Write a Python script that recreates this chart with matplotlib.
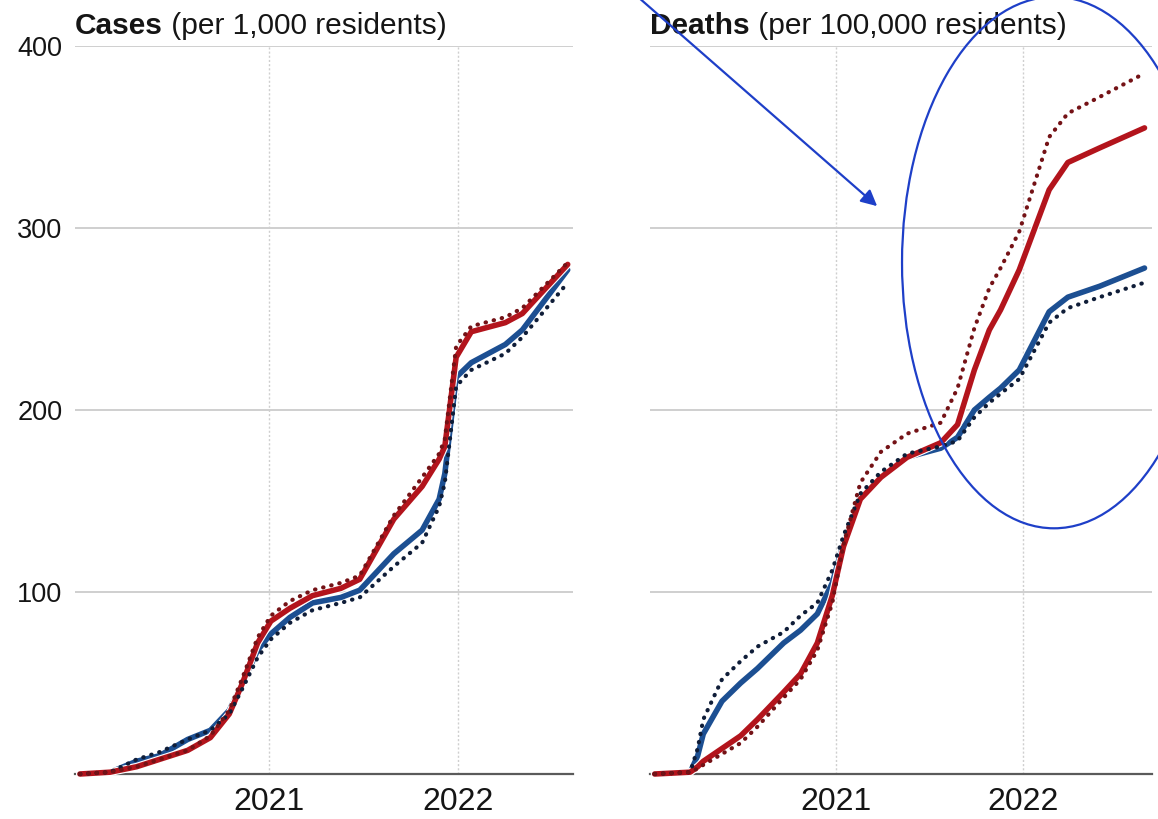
import matplotlib
matplotlib.use('Agg')
import matplotlib.pyplot as plt
import matplotlib.patheffects as pe
from matplotlib.patches import Ellipse

plt.rcParams['font.family'] = ['Liberation Sans', 'DejaVu Sans']

# === DATA (decimal years, cumulative) ===
# Cases per 1,000 residents
T_CASES = [2020.00, 2020.16, 2020.30, 2020.42, 2020.57, 2020.69, 2020.79, 2020.86,
           2020.94, 2021.01, 2021.11, 2021.23, 2021.38, 2021.48, 2021.66, 2021.81,
           2021.90, 2021.93, 2021.99, 2022.07, 2022.25, 2022.34, 2022.58]
cases_red = [0, 1, 4, 8, 13, 20, 33, 50, 72, 84, 91, 98, 102, 107, 140, 158,
             173, 180, 229, 243, 248, 253, 280]
cases_red_dot = [0, 1, 4, 8, 13, 21, 35, 53, 75, 87, 95, 101, 105, 109, 142, 163,
                 176, 184, 235, 246, 251, 256, 281]
cases_blue = [0, 1, 7, 10, 19, 24, 35, 50, 68, 77, 86, 94, 97, 101, 121, 134,
              151, 165, 218, 226, 236, 244, 277]
cases_blue_dot = [0, 1, 8, 12, 19, 24, 33, 47, 64, 74, 83, 90, 94, 97, 114, 127,
                  147, 160, 213, 222, 231, 240, 270]

# Deaths per 100,000 residents
T_DEATHS = [2020.03, 2020.22, 2020.26, 2020.29, 2020.39, 2020.49, 2020.58, 2020.72,
            2020.81, 2020.90, 2020.98, 2021.04, 2021.13, 2021.24, 2021.38, 2021.56,
            2021.65, 2021.74, 2021.82, 2021.88, 2021.98, 2022.14, 2022.24, 2022.41,
            2022.65]
deaths_red = [0, 1, 4, 7, 14, 21, 30, 45, 55, 72, 98, 125, 151, 163, 174, 182,
              192, 222, 244, 255, 277, 321, 336, 344, 355]
deaths_red_dot = [0, 1, 3, 5, 11, 17, 26, 42, 52, 68, 94, 126, 160, 177, 187, 193,
                  212, 245, 267, 278, 298, 350, 363, 372, 385]
deaths_blue = [0, 1, 10, 22, 40, 50, 58, 72, 79, 88, 105, 127, 151, 163, 174, 179,
               185, 200, 207, 212, 222, 254, 262, 268, 278]
deaths_blue_dot = [0, 1, 14, 30, 52, 62, 70, 78, 87, 94, 112, 131, 154, 166, 176, 180,
                   183, 196, 204, 209, 217, 248, 256, 262, 270]

YTICKS = [100, 200, 300, 400]
XTICKS = [2021, 2022]
XLABELS = ['2021', '2022']

# === COLOURS ===
c = {'red': '#b3141c', 'red_dot': '#741216', 'blue': '#1c4f92', 'blue_dot': '#0f1d38',
     'grid': '#cfcfcf', 'axis': '#5a5a5a', 'txt': '#151515', 'note': '#1e3fc8'}

W, H = 1158, 819
fig = plt.figure(figsize=(W / 100, H / 100), dpi=100)
fig.patch.set_facecolor('white')

ax1 = fig.add_axes([75 / W, (H - 774) / H, 498 / W, 728 / H])
ax2 = fig.add_axes([650 / W, (H - 774) / H, 502 / W, 728 / H])

halo = [pe.withStroke(linewidth=5.6, foreground='white')]


def draw_panel(ax, t, red, red_dot, blue, blue_dot, xlim, bold, rest, show_y):
    ax.set_xlim(xlim)
    ax.set_ylim(0, 400)
    for s in ['top', 'right', 'left']:
        ax.spines[s].set_visible(False)
    ax.spines['bottom'].set_color(c['axis'])
    ax.spines['bottom'].set_linewidth(1.6)
    ax.set_yticks(YTICKS)
    ax.set_xticks(XTICKS)
    ax.set_xticklabels(XLABELS)
    ax.tick_params(axis='both', length=0)
    ax.tick_params(axis='x', labelsize=23, pad=9, colors=c['txt'])
    ax.tick_params(axis='y', labelsize=19.5, pad=9, colors=c['txt'])
    if not show_y:
        ax.set_yticklabels([])
    ax.grid(axis='y', color=c['grid'], linewidth=1.4, linestyle='-')
    ax.grid(axis='x', color=c['grid'], linewidth=1.0, linestyle=(0, (1.5, 1.5)))
    ax.set_axisbelow(True)

    ax.plot(t, blue, color=c['blue'], lw=4.0, solid_capstyle='round',
            solid_joinstyle='round', path_effects=halo, clip_on=False, zorder=3)
    ax.plot(t, red, color=c['red'], lw=4.0, solid_capstyle='round',
            solid_joinstyle='round', path_effects=halo, clip_on=False, zorder=3)
    ax.plot(t, blue_dot, color=c['blue_dot'], lw=3.0, linestyle=(0, (0.1, 1.9)),
            dash_capstyle='round', clip_on=False, zorder=4)
    ax.plot(t, red_dot, color=c['red_dot'], lw=3.0, linestyle=(0, (0.1, 1.9)),
            dash_capstyle='round', clip_on=False, zorder=4)

    t1 = ax.text(0.0, 1.0 + 6 / 728, bold, transform=ax.transAxes, fontsize=21.5,
                 fontweight='bold', color=c['txt'], ha='left', va='bottom')
    ax.annotate(rest, xy=(1, 0), xycoords=t1, ha='left', va='bottom',
                fontsize=21.5, color=c['txt'])


draw_panel(ax1, T_CASES, cases_red, cases_red_dot, cases_blue, cases_blue_dot,
           (2019.974, 2022.608), 'Cases', ' (per 1,000 residents)', True)
draw_panel(ax2, T_DEATHS, deaths_red, deaths_red_dot, deaths_blue, deaths_blue_dot,
           (2020.005, 2022.690), 'Deaths', ' (per 100,000 residents)', False)

# Hand-drawn style highlight: arrow and ellipse
ax2.annotate('', xy=(2021.22, 312), xytext=(2019.94, 427),
             arrowprops=dict(arrowstyle='-|>', color=c['note'], lw=1.6,
                             mutation_scale=24, shrinkA=0, shrinkB=0),
             annotation_clip=False, zorder=6)
ell = Ellipse((2022.166, 281), width=1.626, height=292, fill=False,
              edgecolor=c['note'], linewidth=1.6, clip_on=False, zorder=6)
ax2.add_patch(ell)

plt.savefig('out.png', dpi=100, facecolor='white')
